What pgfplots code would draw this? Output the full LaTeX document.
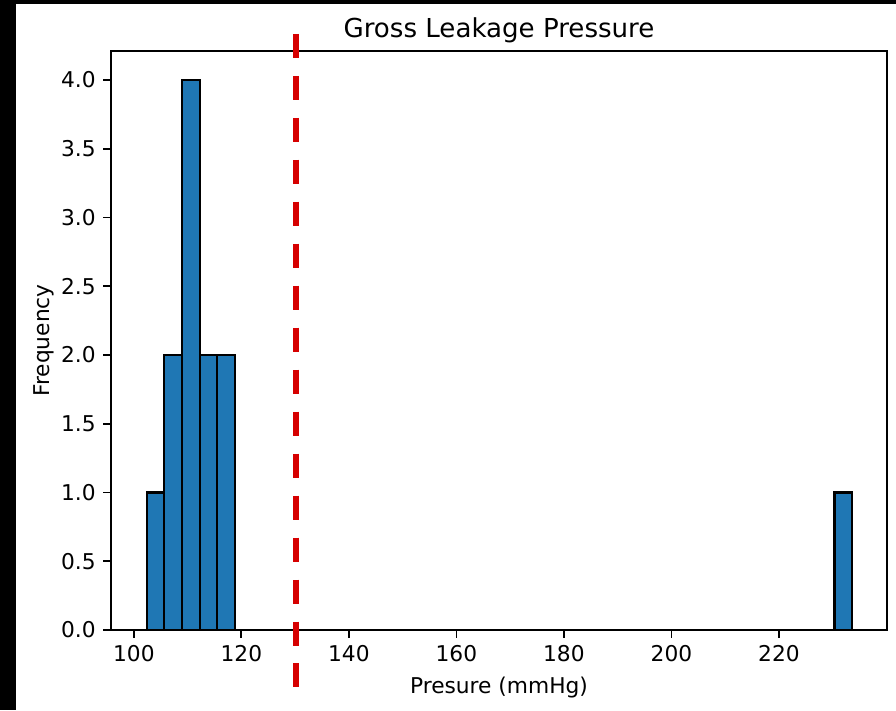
\documentclass[border=0pt]{standalone}
\usepackage{fontspec}
\setmainfont{DejaVu Sans}
\usepackage{pgfplots}
\pgfplotsset{compat=1.18}
\definecolor{barblue}{HTML}{1F77B4}
\definecolor{vred}{RGB}{214,0,0}
\begin{document}
\begin{tikzpicture}
\fill[black] (0,0) rectangle (412.16pt,326.6pt);
\fill[white] (7.36pt,0) rectangle (412.16pt,324.76pt);
\begin{axis}[
  at={(51.06pt,36.8pt)}, anchor=south west,
  scale only axis, width=356.96pt, height=266.34pt,
  xmin=95.75, xmax=240.1, ymin=0, ymax=4.21,
  clip=false,
  axis line style={black, line width=0.8pt},
  tick style={black, line width=0.8pt},
  major tick length=3.5pt,
  tick align=outside,
  tick pos=left,
  xtick={100,120,...,220},
  ytick={0,0.5,...,4},
  minor tick num=0,
  /pgf/number format/assume math mode=true,
  yticklabel style={/pgf/number format/.cd, fixed, fixed zerofill, precision=1},
  xticklabel style={/pgf/number format/.cd, fixed, precision=0},
  ticklabel style={font=\fontsize{10}{12}\selectfont},
  scaled ticks=false,
]
\addplot[ybar, bar width=3.28, bar shift=0pt, fill=barblue, draw=black, line width=1pt]
  coordinates {(104.04,1) (107.32,2) (110.60,4) (113.88,2) (117.16,2) (231.96,1)};
\draw[vred, line width=2.9pt, dash pattern=on 11.04pt off 8.27pt]
  (axis cs:130.2,4.335) -- (axis cs:130.2,-0.42);
\node[anchor=base, font=\fontsize{12}{14}\selectfont] at (rel axis cs:0.5,1) [yshift=6.2pt] {Gross Leakage Pressure};
\node[anchor=base, font=\fontsize{10}{12}\selectfont] at (rel axis cs:0.5,0) [yshift=-29pt] {Presure (mmHg)};
\node[xshift=-28.3pt, anchor=base, rotate=90, font=\fontsize{10}{12}\selectfont] at (rel axis cs:0,0.5) {Frequency};
\end{axis}
\end{tikzpicture}
\end{document}
